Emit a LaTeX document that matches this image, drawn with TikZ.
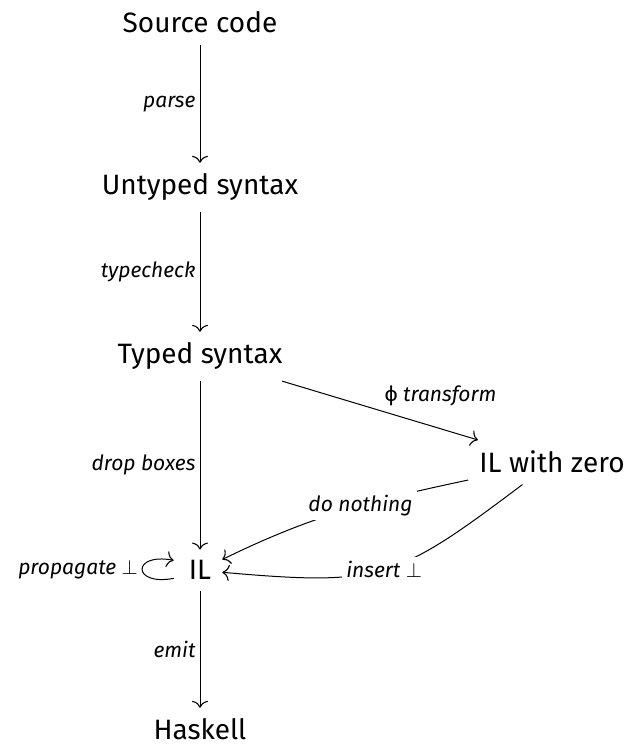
\documentclass[tikz,border=0pt]{standalone}
\usepackage{fontspec}
\setmainfont{Fira Sans}
\usetikzlibrary{arrows.meta}

\tikzset{stage/.style={inner sep=11pt, anchor=base, font=\fontsize{28}{32}\selectfont}}
\tikzset{pass_label/.style={inner sep=4pt, font=\fontsize{21}{24}\selectfont\itshape}}
\tikzset{pass_arrow/.style={line width=1pt, -{Computer Modern Rightarrow[length=7pt, width=16pt, line width=1.1pt]}}}

\begin{document}
\begin{tikzpicture}[x=1pt, y=1pt]
    \useasboundingbox (0,0) rectangle (624,747);
    % compilation stages
    \node[stage] (src) at (200,714) {Source code};
    \node[stage] (untyped) at (200,552) {Untyped syntax};
    \node[stage] (typed) at (200,383) {Typed syntax};
    \node[stage] (ilz) at (552,274) {IL with zero};
    \node[stage] (il) at (200,167) {IL};
    \node[stage] (hs) at (200,7) {Haskell};
    % passes
    \draw[pass_arrow] (src) -- node[pass_label, left] {parse} (untyped);
    \draw[pass_arrow] (untyped) -- node[pass_label, left] {typecheck} (typed);
    \draw[pass_arrow] (typed) -- node[pass_label, left] {drop boxes} (il);
    \draw[pass_arrow] (il) -- node[pass_label, left] {emit} (hs);
    \draw[pass_arrow] (typed) -- node[pass_label, above right] {{\upshape ϕ} transform} (ilz);
    \draw[pass_arrow] (ilz) to[out=192, in=26] node[pass_label, pos=0.42, fill=white] {do nothing} (il);
    \draw[pass_arrow] (ilz) to[out=217, in=-5, looseness=1.3] node[pass_label, fill=white] {insert $\bot$} (il);
    \draw[pass_arrow] ([xshift=-4pt, yshift=-8pt]il.west) .. controls +(-42pt,-8pt) and +(-42pt,8pt) .. node[pass_label, left] {propagate $\bot$} ([xshift=-4pt, yshift=10pt]il.west);
\end{tikzpicture}
\end{document}
